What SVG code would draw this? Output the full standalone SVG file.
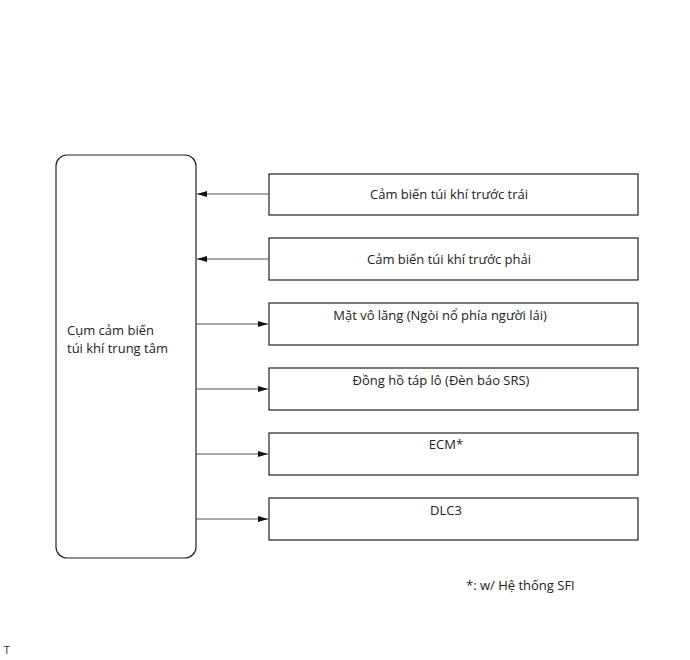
<svg xmlns="http://www.w3.org/2000/svg" width="690" height="660" viewBox="0 0 690 660">
<defs>
<style>
.box{fill:#fff;stroke:#222;stroke-width:1.2}
.t{font-family:"Open Sans","Liberation Sans",sans-serif;font-size:13px;fill:#222}
.c{text-anchor:middle}
.ln{stroke:#555;stroke-width:1;fill:none}
</style>
<marker id="ah" viewBox="0 0 10 6" refX="10" refY="3" markerWidth="10" markerHeight="6" markerUnits="userSpaceOnUse" orient="auto">
<path d="M0,0 L10,3 L0,6 Z" fill="#111"/>
</marker>
</defs>
<rect width="690" height="660" fill="#fff"/>
<g id="center">
<rect class="box" x="56" y="155" width="140" height="403" rx="11"/>
<text class="t" x="67" y="335">Cụm cảm biến</text>
<text class="t" x="67" y="353">túi khí trung tâm</text>
</g>
<g id="n1"><rect class="box" x="269" y="174" width="369" height="41"/><text class="t c" x="449" y="199">Cảm biến túi khí trước trái</text></g>
<g id="n2"><rect class="box" x="269" y="238" width="369" height="42"/><text class="t c" x="449" y="264">Cảm biến túi khí trước phải</text></g>
<g id="n3"><rect class="box" x="269" y="303" width="369" height="42"/><text class="t c" x="440" y="320">Mặt vô lăng (Ngòi nổ phía người lái)</text></g>
<g id="n4"><rect class="box" x="269" y="368" width="369" height="42"/><text class="t c" x="441" y="385">Đồng hồ táp lô (Đèn báo SRS)</text></g>
<g id="n5"><rect class="box" x="269" y="433" width="369" height="42"/><text class="t c" x="446" y="449">ECM*</text></g>
<g id="n6"><rect class="box" x="269" y="498" width="369" height="42"/><text class="t c" x="446" y="515">DLC3</text></g>
<g id="connectors">
<line class="ln" x1="269" y1="194" x2="197" y2="194" marker-end="url(#ah)"/>
<line class="ln" x1="269" y1="259" x2="197" y2="259" marker-end="url(#ah)"/>
<line class="ln" x1="196" y1="324" x2="268" y2="324" marker-end="url(#ah)"/>
<line class="ln" x1="196" y1="389" x2="268" y2="389" marker-end="url(#ah)"/>
<line class="ln" x1="196" y1="454" x2="268" y2="454" marker-end="url(#ah)"/>
<line class="ln" x1="196" y1="519" x2="268" y2="519" marker-end="url(#ah)"/>
</g>
<text class="t" x="466" y="590">*: w/ Hệ thống SFI</text>
<text class="t" x="4" y="654" style="font-size:10px">T</text>
</svg>
